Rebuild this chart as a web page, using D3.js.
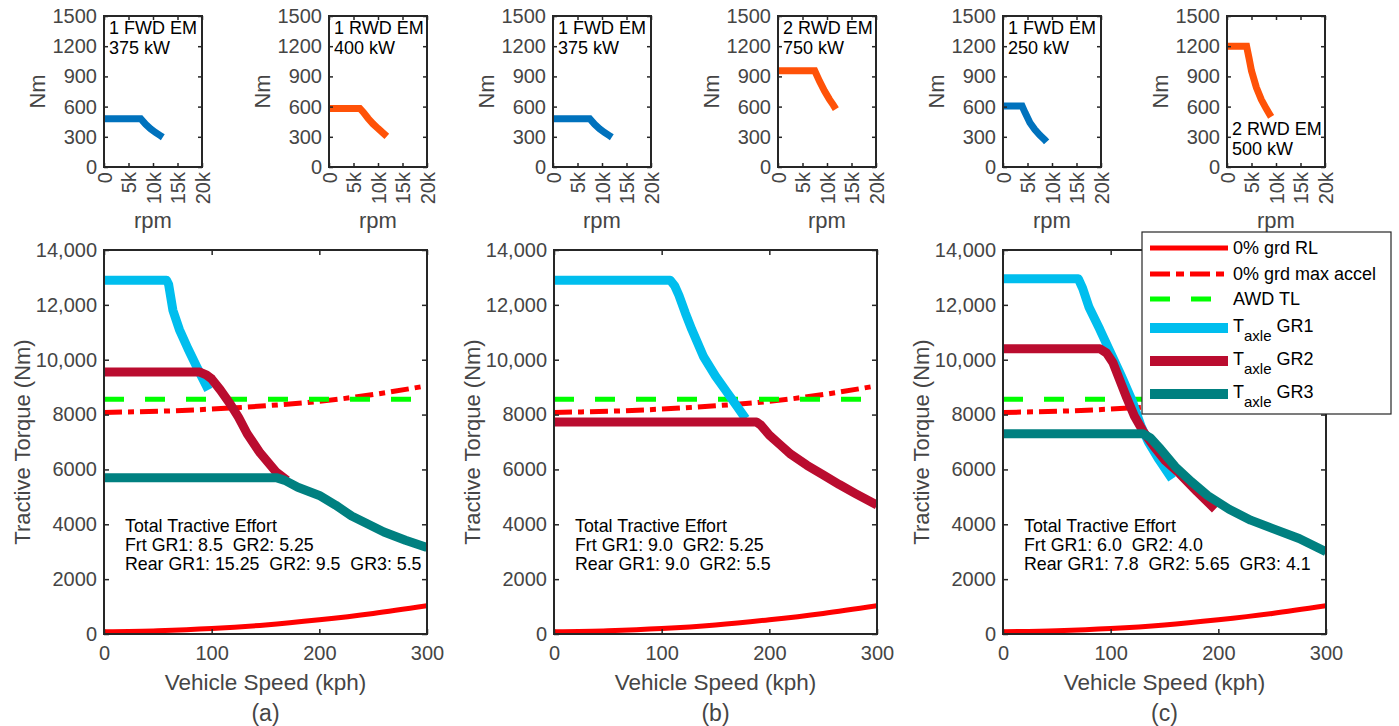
<!DOCTYPE html>
<html><head><meta charset="utf-8">
<script src="https://cdn.jsdelivr.net/npm/d3@7"></script>
<style>
body{margin:0;background:#fff;}
svg{display:block;font-family:"Liberation Sans",Arial,sans-serif;}
</style></head><body>
<svg id="fig" width="1399" height="726"></svg>
<script>
// ---------- motor maps (rpm, Nm) ----------
const rpmTicks = [0, 5000, 10000, 15000, 20000];
const rpmTickLabels = ["0", "5k", "10k", "15k", "20k"];
const motorNmTicks = [0, 300, 600, 900, 1200, 1500];
const motorNmTickLabels = ["0", "300", "600", "900", "1200", "1500"];

const emFwdA = [[0,480],[7500,480],[8500,425],[9500,380],[10500,343],[11500,312],[12000,296]];
const emRwdA = [[0,582],[6300,582],[7000,545],[8000,482],[9000,428],[10000,383],[11000,340],[11800,305]];
const emFwdB = [[0,480],[7500,480],[8500,425],[9500,380],[10500,343],[11500,312],[12000,296]];
const emRwdB = [[0,955],[7500,955],[8500,850],[9500,755],[10500,672],[11300,615],[11800,575]];
const emFwdC = [[0,605],[3900,605],[4500,540],[5500,440],[6500,372],[7500,318],[8500,272],[8900,250]];
const emRwdC = [[0,1200],[4000,1200],[4500,1080],[5000,955],[6000,790],[7000,670],[8000,580],[9000,498]];

// ---------- axle torque vs vehicle speed (kph, Nm) ----------
const speedTicks = [0, 100, 200, 300];
const torqueTicks = [0, 2000, 4000, 6000, 8000, 10000, 12000, 14000];
const torqueTickLabels = ["0", "2000", "4000", "6000", "8000", "10,000", "12,000", "14,000"];

const speedGrid   = [0, 50, 100, 150, 200, 250, 300];
const roadLoad    = [80, 120, 200, 330, 520, 750, 1030];
const maxAccel    = [8080, 8120, 8200, 8320, 8480, 8730, 9050];
const awdTraction = [8560, 8560, 8560, 8560, 8560, 8560, 8560];

const gr1A = [[0,12900],[58,12900],[60,12750],[64,11800],[70,11100],[78,10400],[86,9750],[97,8900]];
const gr2A = [[0,9550],[89,9550],[95,9450],[100,9300],[108,8900],[117,8400],[125,7900],[133,7300],[145,6600],[160,5900],[170,5600]];
const gr3A = [[0,5700],[160,5700],[168,5600],[180,5350],[200,5050],[215,4700],[230,4300],[260,3720],[280,3420],[300,3150]];

const gr1B = [[0,12900],[108,12900],[112,12700],[116,12350],[122,11700],[128,11100],[139,10100],[150,9400],[160,8850],[170,8300],[178,7850]];
const gr2B = [[0,7730],[188,7730],[192,7620],[200,7250],[210,6900],[220,6550],[235,6150],[250,5800],[265,5450],[280,5120],[300,4700]];

const gr1C = [[0,12950],[70,12950],[74,12600],[80,11900],[90,11100],[100,10250],[110,9400],[120,8500],[128,7600],[135,7000],[145,6350],[157,5650]];
const gr2C = [[0,10400],[90,10400],[96,10250],[102,9900],[108,9300],[115,8600],[122,7950],[130,7400],[140,6850],[150,6350],[164,5850],[180,5200],[197,4550]];
const gr3C = [[0,7300],[130,7300],[137,7150],[145,6800],[160,6100],[175,5550],[190,5050],[210,4550],[230,4150],[250,3850],[275,3480],[300,3000]];

const legendLabels = ["0% grd RL", "0% grd max accel", "AWD TL", "GR1", "GR2", "GR3"];

// ---------- styling ----------
const C = {
  blue: "#0072BD", orange: "#FF5208", cyan: "#00BEEE", crimson: "#BA0C2F",
  teal: "#008080", red: "#FF0000", green: "#00FF00",
  axis: "#262626", label: "#454545"
};

const svg = d3.select("#fig");

function styleAxis(g) {
  g.select(".domain").remove();
  g.selectAll(".tick line").attr("stroke", C.axis).attr("stroke-width", 1.5);
  g.selectAll(".tick text").attr("fill", C.label);
}

// ---------- small motor panels ----------
const smallTop = 16, smallBottom = 167, smallW = 98;
const smallPanels = [
  { left: 104,  data: emFwdA, color: C.blue,   text: ["1 FWD EM", "375 kW"], low: false },
  { left: 329,  data: emRwdA, color: C.orange, text: ["1 RWD EM", "400 kW"], low: false },
  { left: 553,  data: emFwdB, color: C.blue,   text: ["1 FWD EM", "375 kW"], low: false },
  { left: 778,  data: emRwdB, color: C.orange, text: ["2 RWD EM", "750 kW"], low: false },
  { left: 1003, data: emFwdC, color: C.blue,   text: ["1 FWD EM", "250 kW"], low: false },
  { left: 1227, data: emRwdC, color: C.orange, text: ["2 RWD EM", "500 kW"], low: true }
];

smallPanels.forEach(p => {
  const x = d3.scaleLinear().domain([0, 20000]).range([p.left, p.left + smallW]);
  const y = d3.scaleLinear().domain([0, 1500]).range([smallBottom, smallTop]);
  const g = svg.append("g");

  const line = d3.line().x(d => x(d[0])).y(d => y(d[1]));
  g.append("path").datum(p.data).attr("d", line)
    .attr("fill", "none").attr("stroke", p.color).attr("stroke-width", 7);

  // left axis with labels, right axis ticks only
  g.append("g").attr("transform", `translate(${p.left},0)`)
    .call(d3.axisLeft(y).tickValues(motorNmTicks).tickSizeInner(-4).tickSizeOuter(0).tickPadding(7)
      .tickFormat((d, i) => motorNmTickLabels[i]))
    .call(styleAxis)
    .selectAll("text").attr("font-size", 20).attr("font-family", null);
  g.append("g").attr("transform", `translate(${p.left + smallW},0)`)
    .call(d3.axisRight(y).tickValues(motorNmTicks).tickSizeInner(-4).tickSizeOuter(0).tickFormat(""))
    .call(styleAxis);

  // bottom axis with rotated labels, top ticks only
  const bx = g.append("g").attr("transform", `translate(0,${smallBottom})`)
    .call(d3.axisBottom(x).tickValues(rpmTicks).tickSizeInner(-4).tickSizeOuter(0)
      .tickFormat((d, i) => rpmTickLabels[i]))
    .call(styleAxis);
  bx.selectAll(".tick text")
    .attr("font-size", 20).attr("font-family", null)
    .attr("y", null).attr("dy", "0.35em")
    .attr("text-anchor", "end")
    .attr("transform", "translate(0,5) rotate(-90)");
  g.append("g").attr("transform", `translate(0,${smallTop})`)
    .call(d3.axisTop(x).tickValues(rpmTicks).tickSizeInner(-4).tickSizeOuter(0).tickFormat(""))
    .call(styleAxis);

  g.append("rect").attr("x", p.left).attr("y", smallTop)
    .attr("width", smallW).attr("height", smallBottom - smallTop)
    .attr("fill", "none").attr("stroke", C.axis).attr("stroke-width", 2);

  g.append("text").attr("transform", `translate(${p.left - 67},${(smallTop + smallBottom) / 2}) rotate(-90)`)
    .attr("text-anchor", "middle").attr("dy", "0.35em")
    .attr("font-size", 22).attr("fill", C.label).text("Nm");
  g.append("text").attr("x", p.left + smallW / 2).attr("y", 221)
    .attr("text-anchor", "middle").attr("dy", "0.3em")
    .attr("font-size", 22).attr("fill", C.label).text("rpm");

  const ty = p.low ? [129, 149] : [28, 48];
  p.text.forEach((t, i) => {
    g.append("text").attr("x", p.left + 5).attr("y", ty[i]).attr("dy", "0.35em")
      .attr("font-size", 18).attr("fill", "#000").text(t);
  });
});

// ---------- tractive torque panels ----------
const bigTop = 250, bigBottom = 634, bigW = 323;
const bigPanels = [
  { left: 104,  tag: "(a)", gr1: gr1A, gr2: gr2A, gr3: gr3A,
    note: ["Total Tractive Effort", "Frt GR1: 8.5  GR2: 5.25", "Rear GR1: 15.25  GR2: 9.5  GR3: 5.5"] },
  { left: 554,  tag: "(b)", gr1: gr1B, gr2: gr2B, gr3: null,
    note: ["Total Tractive Effort", "Frt GR1: 9.0  GR2: 5.25", "Rear GR1: 9.0  GR2: 5.5"] },
  { left: 1003, tag: "(c)", gr1: gr1C, gr2: gr2C, gr3: gr3C,
    note: ["Total Tractive Effort", "Frt GR1: 6.0  GR2: 4.0", "Rear GR1: 7.8  GR2: 5.65  GR3: 4.1"] }
];

bigPanels.forEach(p => {
  const x = d3.scaleLinear().domain([0, 300]).range([p.left, p.left + bigW]);
  const y = d3.scaleLinear().domain([0, 14000]).range([bigBottom, bigTop]);
  const g = svg.append("g");
  const clipId = "clip" + p.left;
  g.append("clipPath").attr("id", clipId).append("rect")
    .attr("x", p.left).attr("y", bigTop).attr("width", bigW).attr("height", bigBottom - bigTop);
  const plot = g.append("g").attr("clip-path", `url(#${clipId})`);

  const smooth = d3.line().x((d, i) => x(speedGrid[i])).y(d => y(d)).curve(d3.curveMonotoneX);
  const lin = d3.line().x(d => x(d[0])).y(d => y(d[1]));

  plot.append("path").datum(roadLoad).attr("d", smooth)
    .attr("fill", "none").attr("stroke", C.red).attr("stroke-width", 5);
  plot.append("path").datum(maxAccel).attr("d", smooth)
    .attr("fill", "none").attr("stroke", C.red).attr("stroke-width", 5)
    .attr("stroke-dasharray", "18,6,6,6");
  plot.append("path").datum(awdTraction).attr("d", smooth)
    .attr("fill", "none").attr("stroke", C.green).attr("stroke-width", 5)
    .attr("stroke-dasharray", "20,21");
  [[p.gr1, C.cyan], [p.gr2, C.crimson], [p.gr3, C.teal]].forEach(([d, col]) => {
    if (!d) return;
    plot.append("path").datum(d).attr("d", lin)
      .attr("fill", "none").attr("stroke", col).attr("stroke-width", 9)
      .attr("stroke-linejoin", "round");
  });

  g.append("g").attr("transform", `translate(${p.left},0)`)
    .call(d3.axisLeft(y).tickValues(torqueTicks).tickSizeInner(-5).tickSizeOuter(0).tickPadding(7)
      .tickFormat((d, i) => torqueTickLabels[i]))
    .call(styleAxis)
    .selectAll("text").attr("font-size", 20).attr("font-family", null);
  g.append("g").attr("transform", `translate(${p.left + bigW},0)`)
    .call(d3.axisRight(y).tickValues(torqueTicks).tickSizeInner(-5).tickSizeOuter(0).tickFormat(""))
    .call(styleAxis);
  g.append("g").attr("transform", `translate(0,${bigBottom})`)
    .call(d3.axisBottom(x).tickValues(speedTicks).tickSizeInner(-5).tickSizeOuter(0).tickPadding(12))
    .call(styleAxis)
    .selectAll("text").attr("font-size", 20).attr("font-family", null);
  g.append("g").attr("transform", `translate(0,${bigTop})`)
    .call(d3.axisTop(x).tickValues(speedTicks).tickSizeInner(-5).tickSizeOuter(0).tickFormat(""))
    .call(styleAxis);

  g.append("rect").attr("x", p.left).attr("y", bigTop)
    .attr("width", bigW).attr("height", bigBottom - bigTop)
    .attr("fill", "none").attr("stroke", C.axis).attr("stroke-width", 2);

  g.append("text").attr("transform", `translate(${p.left - 82},${(bigTop + bigBottom) / 2}) rotate(-90)`)
    .attr("text-anchor", "middle").attr("dy", "0.35em")
    .attr("font-size", 22).attr("fill", C.label).text("Tractive Torque (Nm)");
  g.append("text").attr("x", p.left + bigW / 2).attr("y", 682)
    .attr("text-anchor", "middle").attr("dy", "0.35em")
    .attr("font-size", 22.5).attr("fill", C.label).text("Vehicle Speed (kph)");
  g.append("text").attr("x", p.left + bigW / 2).attr("y", 713)
    .attr("text-anchor", "middle").attr("dy", "0.35em")
    .attr("font-size", 23).attr("fill", C.label).text(p.tag);

  p.note.forEach((t, i) => {
    g.append("text").attr("x", p.left + 21).attr("y", 526 + i * 19).attr("dy", "0.35em")
      .attr("font-size", 17.8).attr("fill", "#000").style("white-space", "pre").text(t);
  });
});

// ---------- legend ----------
const lg = svg.append("g");
lg.append("rect").attr("x", 1142).attr("y", 232).attr("width", 249).attr("height", 182)
  .attr("fill", "#fff").attr("stroke", C.axis).attr("stroke-width", 1.2);
const legendRows = [
  { y: 248, color: C.red,     width: 5,  dash: null },
  { y: 274, color: C.red,     width: 5,  dash: "20,6,8,6" },
  { y: 299, color: C.green,   width: 5,  dash: "20,21" },
  { y: 328, color: C.cyan,    width: 10, dash: null },
  { y: 361, color: C.crimson, width: 10, dash: null },
  { y: 394, color: C.teal,    width: 10, dash: null }
];
legendRows.forEach((r, i) => {
  lg.append("line").attr("x1", 1150).attr("x2", 1228).attr("y1", r.y).attr("y2", r.y)
    .attr("stroke", r.color).attr("stroke-width", r.width)
    .attr("stroke-dasharray", r.dash);
  const t = lg.append("text").attr("x", 1233).attr("font-size", 18).attr("fill", "#000");
  if (i < 3) {
    t.attr("y", r.y).attr("dy", "0.35em").text(legendLabels[i]);
  } else {
    t.attr("y", r.y - 2).attr("dy", "0.35em");
    t.append("tspan").text("T");
    t.append("tspan").attr("font-size", 15).attr("dy", "9").text("axle");
    t.append("tspan").attr("dy", "-9").text(" " + legendLabels[i]);
  }
});
</script>
</body></html>
